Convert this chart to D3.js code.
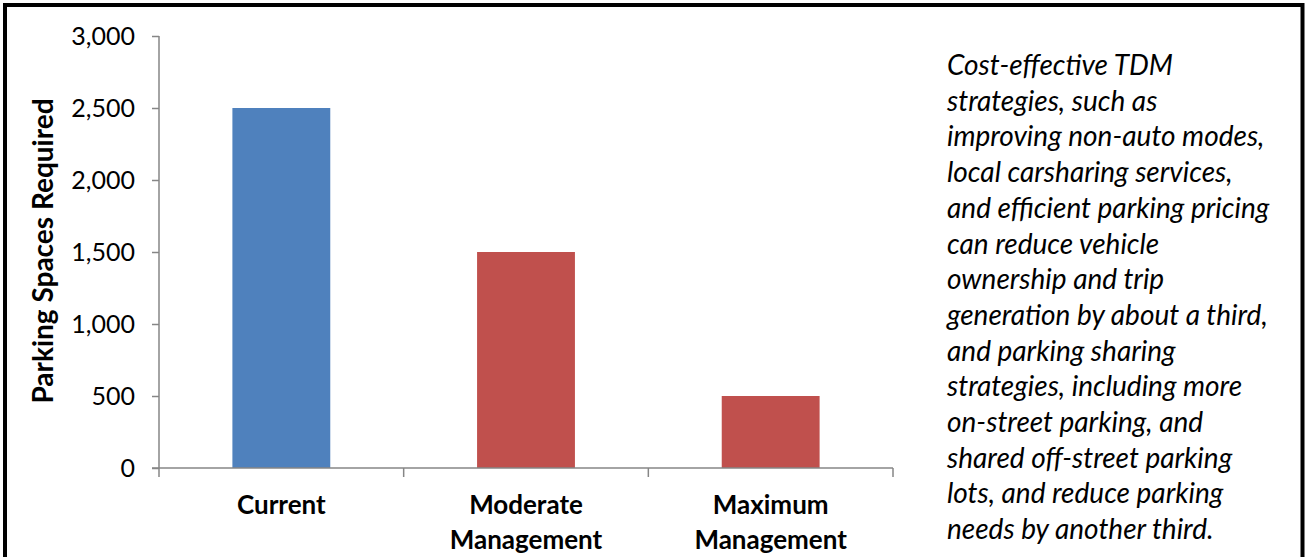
<!DOCTYPE html>
<html>
<head>
<meta charset="utf-8">
<script src="https://cdn.jsdelivr.net/npm/d3@7"></script>
<style>
  html, body { margin: 0; padding: 0; background: #fff; }
  svg { display: block; }
  text { font-family: Lato, "Open Sans", sans-serif; fill: #000; }
</style>
</head>
<body>
<script>
// Parking spaces required under each management scenario
const categories = ["Current", "Moderate Management", "Maximum Management"];
const categoryLines = [["Current"], ["Moderate", "Management"], ["Maximum", "Management"]];
const spacesRequired = [2500, 1500, 500];
const barColors = ["#4F81BD", "#C0504D", "#C0504D"];
const yTicks = [0, 500, 1000, 1500, 2000, 2500, 3000];
const yTitle = "Parking Spaces Required";
const noteLines = [
  "Cost-effective TDM",
  "strategies, such as",
  "improving non-auto modes,",
  "local carsharing services,",
  "and efficient parking pricing",
  "can reduce vehicle",
  "ownership and trip",
  "generation by about a third,",
  "and parking sharing",
  "strategies, including more",
  "on-street parking, and",
  "shared off-street parking",
  "lots, and reduce parking",
  "needs by another third."
];

const W = 1309, H = 557;
const svg = d3.select("body").append("svg").attr("width", W).attr("height", H);

// Frame (open at the bottom)
svg.append("path")
  .attr("d", `M5,${H + 5} L5,5 L1302.5,5 L1302.5,${H + 5}`)
  .attr("fill", "none").attr("stroke", "#000").attr("stroke-width", 4);

const plot = { left: 159, right: 893, top: 36, bottom: 468 };
const axisColor = "#868686";

const x = d3.scaleBand().domain(categories).range([plot.left, plot.right])
  .paddingInner(0.6).paddingOuter(0.3);
const y = d3.scaleLinear().domain([0, 3000]).range([plot.bottom, plot.top]);

// Bars
svg.append("g").selectAll("rect")
  .data(categories)
  .join("rect")
  .attr("x", d => x(d))
  .attr("width", x.bandwidth())
  .attr("y", (d, i) => y(spacesRequired[i]))
  .attr("height", (d, i) => y(0) - y(spacesRequired[i]))
  .attr("fill", (d, i) => barColors[i]);

// Y axis
const yAxis = svg.append("g")
  .attr("transform", `translate(${plot.left},0)`)
  .call(d3.axisLeft(y).tickValues(yTicks).tickSize(7).tickPadding(17)
    .tickFormat(d3.format(",")));
yAxis.select(".domain").remove();
yAxis.selectAll(".tick line").attr("stroke", axisColor).attr("stroke-width", 1.5);
yAxis.selectAll(".tick text").style("font-size", "25px").style("font-family", "Lato, sans-serif");
yAxis.append("line")
  .attr("x1", 0).attr("x2", 0)
  .attr("y1", plot.top).attr("y2", plot.bottom + 9)
  .attr("stroke", axisColor).attr("stroke-width", 1.5);

// X axis: baseline plus tick marks at category boundaries
const xAxis = svg.append("g");
xAxis.append("line")
  .attr("x1", plot.left - 7).attr("x2", plot.right)
  .attr("y1", y(0)).attr("y2", y(0))
  .attr("stroke", axisColor).attr("stroke-width", 1.5);
const boundaries = d3.range(categories.length + 1).map(i => plot.left + i * (plot.right - plot.left) / categories.length);
xAxis.selectAll("line.tick")
  .data(boundaries.slice(1))
  .join("line")
  .attr("class", "tick")
  .attr("x1", d => d).attr("x2", d => d)
  .attr("y1", y(0)).attr("y2", y(0) + 9)
  .attr("stroke", axisColor).attr("stroke-width", 1.5);

// Category labels
const labels = xAxis.selectAll("text.cat")
  .data(categories)
  .join("text")
  .attr("class", "cat")
  .attr("text-anchor", "middle")
  .attr("x", d => x(d) + x.bandwidth() / 2)
  .attr("y", 514)
  .style("font-size", "26px")
  .style("font-weight", "bold");
labels.selectAll("tspan")
  .data((d, i) => categoryLines[i])
  .join("tspan")
  .attr("x", function() { return d3.select(this.parentNode).attr("x"); })
  .attr("dy", (d, i) => i === 0 ? 0 : 35)
  .text(d => d);

// Y axis title
svg.append("text")
  .attr("transform", "translate(53,251) rotate(-90)")
  .attr("text-anchor", "middle")
  .style("font-size", "28px")
  .style("font-weight", "bold")
  .text(yTitle);

// Side note
svg.append("text")
  .attr("x", 947).attr("y", 75)
  .style("font-size", "28px")
  .style("font-style", "italic")
  .selectAll("tspan")
  .data(noteLines)
  .join("tspan")
  .attr("x", 947)
  .attr("dy", (d, i) => i === 0 ? 0 : 35.7)
  .text(d => d);
</script>
</body>
</html>
